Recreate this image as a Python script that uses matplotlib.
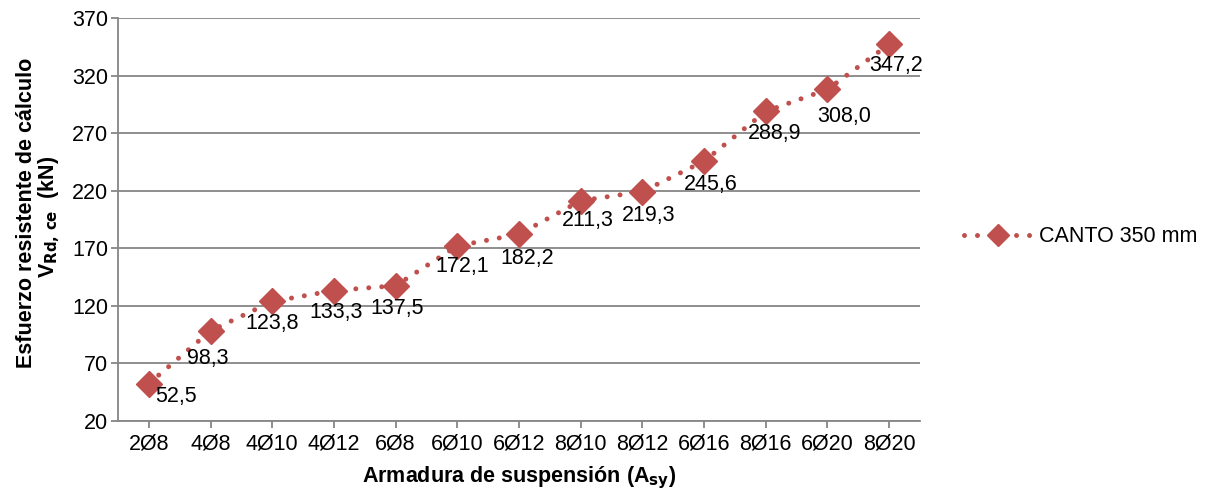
import matplotlib
matplotlib.use("Agg")
import matplotlib.pyplot as plt

plt.rcParams['font.family'] = ['Liberation Sans', 'DejaVu Sans']

categories = ["2Ø8", "4Ø8", "4Ø10", "4Ø12", "6Ø8", "6Ø10", "6Ø12",
              "8Ø10", "8Ø12", "6Ø16", "8Ø16", "6Ø20", "8Ø20"]
values = [52.5, 98.3, 123.8, 133.3, 137.5, 172.1, 182.2,
          211.3, 219.3, 245.6, 288.9, 308.0, 347.2]
value_labels = ["52,5", "98,3", "123,8", "133,3", "137,5", "172,1", "182,2",
                "211,3", "219,3", "245,6", "288,9", "308,0", "347,2"]
label_offsets = [(27, -13), (-3, -28), (0, -22), (2, -22), (2, -23), (5, -21), (8, -24),
                 (7, -20), (6, -24), (7, -23), (9, -22), (17, -27), (7, -21)]
yticks = [20, 70, 120, 170, 220, 270, 320, 370]
series_name = "CANTO 350 mm"

color = "#C0504D"
gray = "#868686"
fs = 15.5

fig = plt.figure(figsize=(12.12, 4.92), dpi=100)
ax = fig.add_axes([118/1212, 71/492, (920-118)/1212, (421-18)/492])

x = list(range(len(categories)))
ax.plot(x, values, color=color, linewidth=3.6, linestyle=(0, (0.001, 2.6)),
        dash_capstyle='round', marker='D', markersize=13,
        markerfacecolor=color, markeredgecolor=color, label=series_name, zorder=3)

for xi, v, lab, off in zip(x, values, value_labels, label_offsets):
    ax.annotate(lab, (xi, v), xytext=off, textcoords='offset pixels',
                ha='center', va='center', fontsize=fs, color='#000000', zorder=4)

ax.set_xlim(-0.5, len(categories) - 0.5)
ax.set_ylim(20, 370)
ax.set_yticks(yticks)
ax.set_xticks(x)
ax.set_xticklabels(categories)
ax.tick_params(axis='both', labelsize=fs, colors=gray, labelcolor='#000000',
               direction='out', length=5, width=1.3)
ax.tick_params(axis='x', pad=4)
ax.tick_params(axis='y', pad=2)

ax.grid(axis='y', color=gray, linewidth=1.3)
ax.set_axisbelow(True)
for s in ['top', 'right']:
    ax.spines[s].set_visible(False)
for s in ['left', 'bottom']:
    ax.spines[s].set_color(gray)
    ax.spines[s].set_linewidth(1.3)

fig.text(519/1212, 1 - 482/492, "Armadura de suspensión (A$_{\\mathbf{sy}}$)",
         ha='center', va='baseline', fontsize=fs, fontweight='bold')
fig.text(27/1212, 0.567, "Esfuerzo resistente de cálculo", rotation=90,
         ha='center', va='center', fontsize=fs, fontweight='bold')
fig.text(49/1212, 0.56, "V$_{\\mathbf{Rd,\\,ce}}$  (kN)", rotation=90,
         ha='center', va='center', fontsize=fs, fontweight='bold')

leg = ax.legend(loc='center left', bbox_to_anchor=(945/1212, 255/492),
                bbox_transform=fig.transFigure, frameon=False, fontsize=fs,
                handlelength=3.1, handletextpad=0.35, markerscale=0.85)

fig.savefig("out.png", dpi=100)
